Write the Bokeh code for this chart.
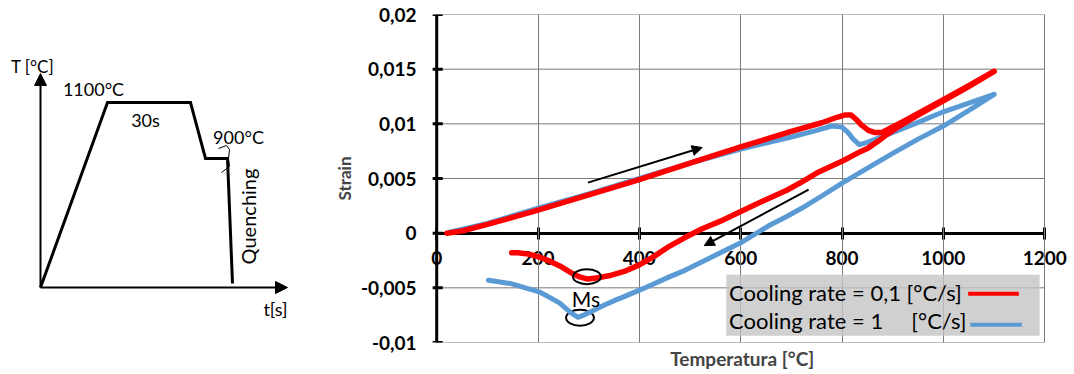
from bokeh.plotting import figure
from bokeh.layouts import row
from bokeh.models import (Range1d, FixedTicker, LinearAxis, CustomJSTickFormatter,
                          Arrow, NormalHead)
from bokeh.core.properties import value
from bokeh.embed import file_html
from bokeh.resources import INLINE
import math

# ---------------- data ----------------
# schematic thermal cycle (schematic units, not to scale)
cycle_t = [0, 67, 150, 165, 187, 192]
cycle_T = [0, 185, 185, 129, 129, 4]

# dilatometry curves, cooling rate 0.1 °C/s (red)
red_heat_T = [20, 50, 100, 200, 300, 400, 500, 600, 700, 760, 790, 805, 818, 828, 838,
              852, 865, 878, 895, 920, 1000, 1050, 1100]
red_heat_s = [0.0, 0.0002, 0.0008, 0.0021, 0.0035, 0.0049, 0.0064, 0.0079, 0.0093, 0.0101,
              0.0106, 0.0108, 0.0108, 0.0104, 0.0099, 0.0094, 0.0092, 0.0092, 0.0096,
              0.0102, 0.0122, 0.0135, 0.0148]
red_cool_T = [1100, 1050, 1000, 950, 910, 891, 871, 852, 838, 801, 754, 721, 690, 656, 601,
              560, 524, 490, 459, 430, 400, 370, 340, 315, 298, 282, 268, 243, 220, 204, 180,
              160, 148]
red_cool_s = [0.0148, 0.0134, 0.0121, 0.0108, 0.0097, 0.0091, 0.0084, 0.0078, 0.0075, 0.0066,
              0.0056, 0.0047, 0.0039, 0.0032, 0.0020, 0.0011, 0.0004, -0.0004, -0.0012,
              -0.0021, -0.0029, -0.0035, -0.0039, -0.0041, -0.0042, -0.0040, -0.0037,
              -0.0030, -0.0025, -0.0022, -0.0019, -0.0018, -0.0018]

# cooling rate 1 °C/s (blue)
blue_heat_T = [25, 100, 200, 300, 400, 500, 600, 700, 750, 780, 800, 812, 822, 834, 850, 878,
               943, 1000, 1050, 1100]
blue_heat_s = [0.0001, 0.0009, 0.0023, 0.0036, 0.0050, 0.0064, 0.0077, 0.0088, 0.0094, 0.0098,
               0.0097, 0.0092, 0.0086, 0.0081, 0.0083, 0.0088, 0.0100, 0.0111, 0.0119, 0.0127]
blue_cool_T = [1100, 1060, 1000, 950, 900, 852, 801, 760, 721, 690, 656, 603, 560, 520, 490,
               459, 430, 406, 370, 354, 330, 308, 290, 279, 265, 243, 220, 204, 175, 145, 102]
blue_cool_s = [0.0127, 0.0115, 0.0098, 0.0086, 0.0073, 0.0060, 0.0046, 0.0034, 0.0023, 0.0015,
               0.0007, -0.0008, -0.0018, -0.0027, -0.0034, -0.0040, -0.0046, -0.0051, -0.0058,
               -0.0061, -0.0066, -0.0071, -0.0075, -0.0077, -0.0073, -0.0064, -0.0058,
               -0.0054, -0.0050, -0.0046, -0.0043]

x_ticks = [0, 200, 400, 600, 800, 1000, 1200]
y_ticks = [-0.01, -0.005, 0.0, 0.005, 0.01, 0.015, 0.02]

legend_labels = ["Cooling rate = 0,1 [°C/s]",
                 "Cooling rate = 1" + "\u00a0" * 5 + "[°C/s]"]

# Ms markers (temperature, strain)
ms_red = (296.5, -0.00398)
ms_blue = (282.8, -0.00774)

RED = "#ff0000"
BLUE = "#5b9bd5"
FONT = "Lato"
GRID = "#7a7a7a"

# ---------------- left schematic ----------------
# (its frame is aligned with the chart frame: 14 px from top, 32 px from bottom)
left = figure(width=330, height=374, x_range=Range1d(-40, 290), y_range=Range1d(-55, 273),
              output_backend="svg", toolbar_location=None, min_border=0,
              x_axis_location=None, y_axis_location=None)
left.grid.visible = False
left.outline_line_color = None

left.add_layout(Arrow(x_start=0, y_start=0, x_end=0, y_end=214, line_width=2,
                      end=NormalHead(size=12, fill_color="black", line_color="black")))
left.add_layout(Arrow(x_start=0, y_start=0, x_end=247, y_end=0, line_width=2,
                      end=NormalHead(size=12, fill_color="black", line_color="black")))
left.line(cycle_t, cycle_T, line_color="black", line_width=3, line_join="miter")
left.line([178, 186, 189, 188, 189, 181], [139, 142, 138, 129, 121, 115],
          line_color="black", line_width=1)

def ltext(x, y, s, size="18px", angle=0.0):
    left.text(x=[x], y=[y], text=[s], text_font=value(FONT), text_font_size=size,
              text_align="center", text_baseline="middle", angle=angle, text_color="black")

ltext(-8, 221, "T [°C]", "17px")
ltext(53, 199, "1100°C")
ltext(105, 168, "30s")
ltext(198, 151, "900°C")
ltext(207, 71, "Quenching", "20px", math.pi / 2)
ltext(235, -21, "t[s]", "18px")

# ---------------- right chart ----------------
p = figure(width=744, height=374, x_range=Range1d(-30, 1245), y_range=Range1d(-0.01, 0.02),
           output_backend="svg", toolbar_location=None,
           min_border_left=88, min_border_right=7, min_border_top=14, min_border_bottom=32)
p.outline_line_color = None

# vertical grid lines (full height)
p.xgrid.ticker = FixedTicker(ticks=x_ticks)
p.xgrid.grid_line_color = GRID
p.xgrid.grid_line_width = 1
p.ygrid.visible = False
# horizontal grid lines, limited to 0..1200
hy = [t for t in y_ticks if t != 0.0]
p.segment(x0=[x_ticks[0]] * len(hy), x1=[x_ticks[-1]] * len(hy), y0=hy, y1=hy,
          line_color=GRID, line_width=1)

# x axis sitting at strain = 0
xa = p.xaxis[0]
xa.fixed_location = 0
xa.bounds = (x_ticks[0], x_ticks[-1])
xa.ticker = FixedTicker(ticks=x_ticks)
xa.axis_line_width = 3
xa.major_tick_line_width = 3
xa.minor_tick_line_color = None
xa.major_tick_in = 6
xa.major_tick_out = 6
xa.major_label_standoff = 12
xa.major_label_text_font = FONT
xa.major_label_text_font_style = "bold"
xa.major_label_text_font_size = "19px"
xa.major_label_text_color = "black"
xa.level = "underlay"

# y axis: labels from a regular left axis, line and ticks drawn at T = 0
ya = p.yaxis[0]
ya.ticker = FixedTicker(ticks=y_ticks)
ya.formatter = CustomJSTickFormatter(
    code="return (Math.round(tick*1000)/1000).toString().replace('.', ',');")
ya.axis_line_color = None
ya.major_tick_line_color = None
ya.minor_tick_line_color = None
ya.major_tick_in = 0
ya.major_tick_out = 0
ya.major_label_standoff = 5
ya.major_label_text_font = FONT
ya.major_label_text_font_style = "bold"
ya.major_label_text_font_size = "19px"
ya.major_label_text_color = "black"
ya.axis_label = "Strain"
ya.axis_label_text_font = FONT
ya.axis_label_text_font_style = "bold"
ya.axis_label_text_font_size = "17px"
ya.axis_label_standoff = 3

p.segment(x0=[x_ticks[0]], x1=[x_ticks[0]], y0=[y_ticks[0]], y1=[y_ticks[-1]],
          line_color="black", line_width=3)
p.segment(x0=[x_ticks[0] - 8] * len(y_ticks), x1=[x_ticks[0] + 12] * len(y_ticks),
          y0=y_ticks, y1=y_ticks, line_color="black", line_width=3)

lab_axis = LinearAxis(ticker=FixedTicker(ticks=[]), axis_line_color=None,
                      major_tick_out=0, major_tick_in=0, minor_tick_out=0, minor_tick_in=0,
                      axis_label="Temperatura  [°C]", axis_label_standoff=4,
                      axis_label_text_font=FONT, axis_label_text_font_style="bold",
                      axis_label_text_font_size="19px")
p.add_layout(lab_axis, "below")

# Ms ellipse (blue, under its line)
p.ellipse(x=[ms_blue[0]], y=[ms_blue[1]], width=55, height=0.00146,
          fill_color=None, line_color="black", line_width=2)

# curves
p.line(blue_heat_T, blue_heat_s, line_color=BLUE, line_width=5, line_join="round", line_cap="round")
p.line(blue_cool_T, blue_cool_s, line_color=BLUE, line_width=5, line_join="round", line_cap="round")
p.line(red_heat_T, red_heat_s, line_color=RED, line_width=5.5, line_join="round", line_cap="round")
p.line(red_cool_T, red_cool_s, line_color=RED, line_width=5.5, line_join="round", line_cap="round")

# Ms ellipse (red, over its line)
p.ellipse(x=[ms_red[0]], y=[ms_red[1]], width=55, height=0.00137,
          fill_color=None, line_color="black", line_width=2)

# direction arrows
p.add_layout(Arrow(x_start=298.5, y_start=0.00462, x_end=524, y_end=0.00783, line_width=2,
                   end=NormalHead(size=10, fill_color="black", line_color="black")))
p.add_layout(Arrow(x_start=734, y_start=0.00398, x_end=528, y_end=-0.00114, line_width=2,
                   end=NormalHead(size=10, fill_color="black", line_color="black")))

p.text(x=[294.6], y=[-0.0060], text=["Ms"], text_font=value(FONT), text_font_size="21px",
       text_align="center", text_baseline="middle", text_color="black")

# legend box
p.quad(left=[571.5], right=[1190], top=[-0.0038], bottom=[-0.00938],
       fill_color="#c4c4c4", fill_alpha=0.8, line_color=None)
p.text(x=[577, 577], y=[-0.00545, -0.00801], text=legend_labels, text_font=value(FONT),
       text_font_size="22px", text_align="left", text_baseline="middle", text_color="black")
p.line([1049, 1149], [-0.00554, -0.00554], line_color=RED, line_width=4)
p.line([1053, 1155], [-0.00838, -0.00838], line_color=BLUE, line_width=4)

layout = row(left, p)
open("out.html", "w").write(file_html(layout, INLINE))
